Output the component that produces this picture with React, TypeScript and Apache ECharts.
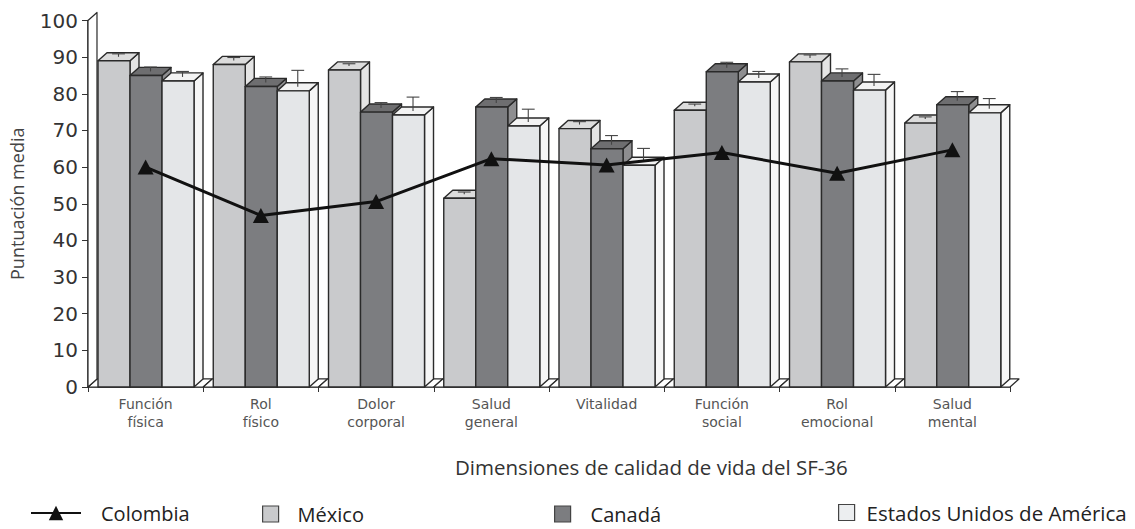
import React, { useEffect, useRef } from "react";
import * as echarts from "echarts";

const categories = [
  "Función\nfísica",
  "Rol\nfísico",
  "Dolor\ncorporal",
  "Salud\ngeneral",
  "Vitalidad",
  "Función\nsocial",
  "Rol\nemocional",
  "Salud\nmental",
];

const mexico = [89, 88, 86.5, 51.5, 70.5, 75.5, 88.7, 72];
const mexicoErr = [0.8, 0.8, 0.6, 0.6, 0.8, 0.6, 0.8, 0.6];
const canada = [85, 82, 75, 76.4, 65, 86, 83.5, 77];
const canadaErr = [1.2, 1.5, 1.5, 1.5, 2.5, 1.5, 2.2, 2.5];
const usa = [83.5, 80.8, 74.2, 71.2, 60.5, 83.2, 81, 74.8];
const usaErr = [1.5, 4.5, 3.8, 3.5, 3.5, 1.8, 3.2, 2.8];
const colombia = [60, 46.8, 50.6, 62.3, 60.6, 64, 58.3, 64.7];

const yMin = 0;
const yMax = 100;
const yInterval = 10;

const OUTLINE = "#2a2a2a";

function bar3D(k: number, front: string, top: string, side: string) {
  return (params: any, api: any) => {
    const ci = api.value(0);
    const v = api.value(1);
    const e = api.value(2);
    const band = api.size([1, 0])[0];
    const c0 = api.coord([ci, 0]);
    const cv = api.coord([ci, v]);
    const ce = api.coord([ci, v + e]);
    const w = band * 0.2777;
    const dx = band * 0.078;
    const dy = band * 0.07;
    const x0 = c0[0] - band / 2 + band * 0.0868 + k * w;
    const x1 = x0 + w;
    const yb = c0[1];
    const yt = cv[1];
    const xm = x0 + w / 2 + dx / 2;
    const ymTop = yt - dy / 2;
    const yErr = ce[1] - dy / 2;
    const cap = w * 0.2;
    const stroke = { stroke: OUTLINE, lineWidth: 1.4, lineJoin: "round" };
    return {
      type: "group",
      children: [
        {
          type: "polygon",
          shape: { points: [[x1, yb], [x1 + dx, yb - dy], [x1 + dx, yt - dy], [x1, yt]] },
          style: { fill: side, ...stroke },
        },
        {
          type: "polygon",
          shape: { points: [[x0, yt], [x1, yt], [x1 + dx, yt - dy], [x0 + dx, yt - dy]] },
          style: { fill: top, ...stroke },
        },
        {
          type: "rect",
          shape: { x: x0, y: yt, width: w, height: yb - yt },
          style: { fill: front, ...stroke },
        },
        {
          type: "line",
          shape: { x1: xm, y1: ymTop, x2: xm, y2: yErr },
          style: { stroke: "#444", lineWidth: 1.1 },
        },
        {
          type: "line",
          shape: { x1: xm - cap, y1: yErr, x2: xm + cap, y2: yErr },
          style: { stroke: "#444", lineWidth: 1.1 },
        },
      ],
    };
  };
}

function floorItem(params: any, api: any) {
  const ci = api.value(0);
  const band = api.size([1, 0])[0];
  const c0 = api.coord([ci, yMin]);
  const cTop = api.coord([ci, yMax]);
  const dx = band * 0.078;
  const dy = band * 0.07;
  const xl = c0[0] - band / 2;
  const xr = c0[0] + band / 2;
  const yb = c0[1];
  const stroke = { stroke: OUTLINE, lineWidth: 1.2, lineJoin: "round" };
  const children: any[] = [
    {
      type: "polygon",
      shape: { points: [[xl, yb], [xr, yb], [xr + dx, yb - dy], [xl + dx, yb - dy]] },
      style: { fill: "#ffffff", ...stroke },
    },
  ];
  if (ci === 0) {
    const yt = cTop[1];
    children.push({
      type: "polygon",
      shape: { points: [[xl, yb], [xl, yt], [xl + dx, yt - dy], [xl + dx, yb - dy]] },
      style: { fill: "#ffffff", ...stroke },
    });
  }
  return { type: "group", children };
}

export default function App() {
  const ref = useRef<HTMLDivElement>(null);

  useEffect(() => {
    if (!ref.current) return;
    const chart = echarts.init(ref.current, undefined, { renderer: "svg" });

    const legendText = {
      fontFamily: "Open Sans",
      fontSize: 20,
      color: "#222",
    };

    const option: any = {
      animation: false,
      backgroundColor: "#ffffff",
      grid: { left: 88, right: 125, top: 20.5, bottom: 142, containLabel: false },
      title: {
        text: "Dimensiones de calidad de vida del SF-36",
        left: 455,
        top: 456,
        padding: 0,
        textStyle: { fontFamily: "Open Sans", fontSize: 20.5, fontWeight: "normal", color: "#333" },
      },
      legend: [
        {
          data: [{ name: "Colombia" }],
          left: 30,
          top: 503,
          padding: 0,
          itemWidth: 50,
          itemHeight: 18,
          textStyle: { ...legendText, padding: [0, 0, 0, 15] },
        },
        {
          data: [
            {
              name: "México",
              icon: "rect",
              itemStyle: { color: "#c9cacc", borderColor: "#444", borderWidth: 1.2 },
            },
          ],
          left: 262,
          top: 504,
          padding: 0,
          itemWidth: 16,
          itemHeight: 16,
          textStyle: { ...legendText, padding: [0, 0, 0, 14] },
        },
        {
          data: [
            {
              name: "Canadá",
              icon: "rect",
              itemStyle: { color: "#7c7d80", borderColor: "#444", borderWidth: 1.2 },
            },
          ],
          left: 554,
          top: 504,
          padding: 0,
          itemWidth: 16,
          itemHeight: 16,
          textStyle: { ...legendText, padding: [0, 0, 0, 15] },
        },
        {
          data: [
            {
              name: "Estados Unidos de América",
              icon: "rect",
              itemStyle: { color: "#eceef0", borderColor: "#444", borderWidth: 1.2 },
            },
          ],
          left: 838,
          top: 502,
          padding: 0,
          itemWidth: 16,
          itemHeight: 16,
          textStyle: { ...legendText, fontSize: 20.5, padding: [0, 0, 0, 7] },
        },
      ],
      xAxis: {
        type: "category",
        data: categories,
        boundaryGap: true,
        axisLine: { show: true, lineStyle: { color: "#333", width: 1.5 } },
        axisTick: { show: true, length: 5, lineStyle: { color: "#333" } },
        axisLabel: {
          margin: 8,
          fontFamily: "DejaVu Sans",
          fontSize: 14,
          lineHeight: 18,
          color: "#555",
          interval: 0,
        },
        splitLine: { show: false },
      },
      yAxis: {
        type: "value",
        min: yMin,
        max: yMax,
        interval: yInterval,
        name: "Puntuación media",
        nameLocation: "middle",
        nameGap: 62,
        nameRotate: 90,
        nameTextStyle: { fontFamily: "Open Sans", fontSize: 18, color: "#444" },
        axisLine: { show: true, lineStyle: { color: "#333", width: 1.5 } },
        axisTick: { show: true, length: 6, lineStyle: { color: "#333" } },
        axisLabel: { margin: 10, fontFamily: "DejaVu Sans", fontSize: 20, color: "#333" },
        splitLine: { show: false },
      },
      series: [
        {
          name: "floor",
          type: "custom",
          silent: true,
          renderItem: floorItem,
          encode: { x: 0, y: 1 },
          data: categories.map((_, i) => [i, 0]),
          z: 1,
        },
        {
          name: "México",
          type: "custom",
          renderItem: bar3D(0, "#c9cacc", "#dcdcdc", "#e4e4e4"),
          encode: { x: 0, y: 1 },
          itemStyle: { color: "#c9cacc" },
          data: mexico.map((v, i) => [i, v, mexicoErr[i]]),
          z: 2,
        },
        {
          name: "Canadá",
          type: "custom",
          renderItem: bar3D(1, "#7c7d80", "#6e6e70", "#8e8e90"),
          encode: { x: 0, y: 1 },
          itemStyle: { color: "#7c7d80" },
          data: canada.map((v, i) => [i, v, canadaErr[i]]),
          z: 2,
        },
        {
          name: "Estados Unidos de América",
          type: "custom",
          renderItem: bar3D(2, "#e4e6e8", "#f3f3f3", "#f6f6f6"),
          encode: { x: 0, y: 1 },
          itemStyle: { color: "#eceef0" },
          data: usa.map((v, i) => [i, v, usaErr[i]]),
          z: 2,
        },
        {
          name: "Colombia",
          type: "line",
          data: colombia,
          symbol: "triangle",
          symbolSize: [16, 15],
          itemStyle: { color: "#111" },
          lineStyle: { color: "#111", width: 3 },
          z: 5,
        },
      ],
    };

    chart.setOption(option);
    return () => {
      chart.dispose();
    };
  }, []);

  return (
    <div
      ref={ref}
      style={{ position: "fixed", left: 0, top: 0, width: 1135, height: 529, background: "#fff" }}
    />
  );
}
